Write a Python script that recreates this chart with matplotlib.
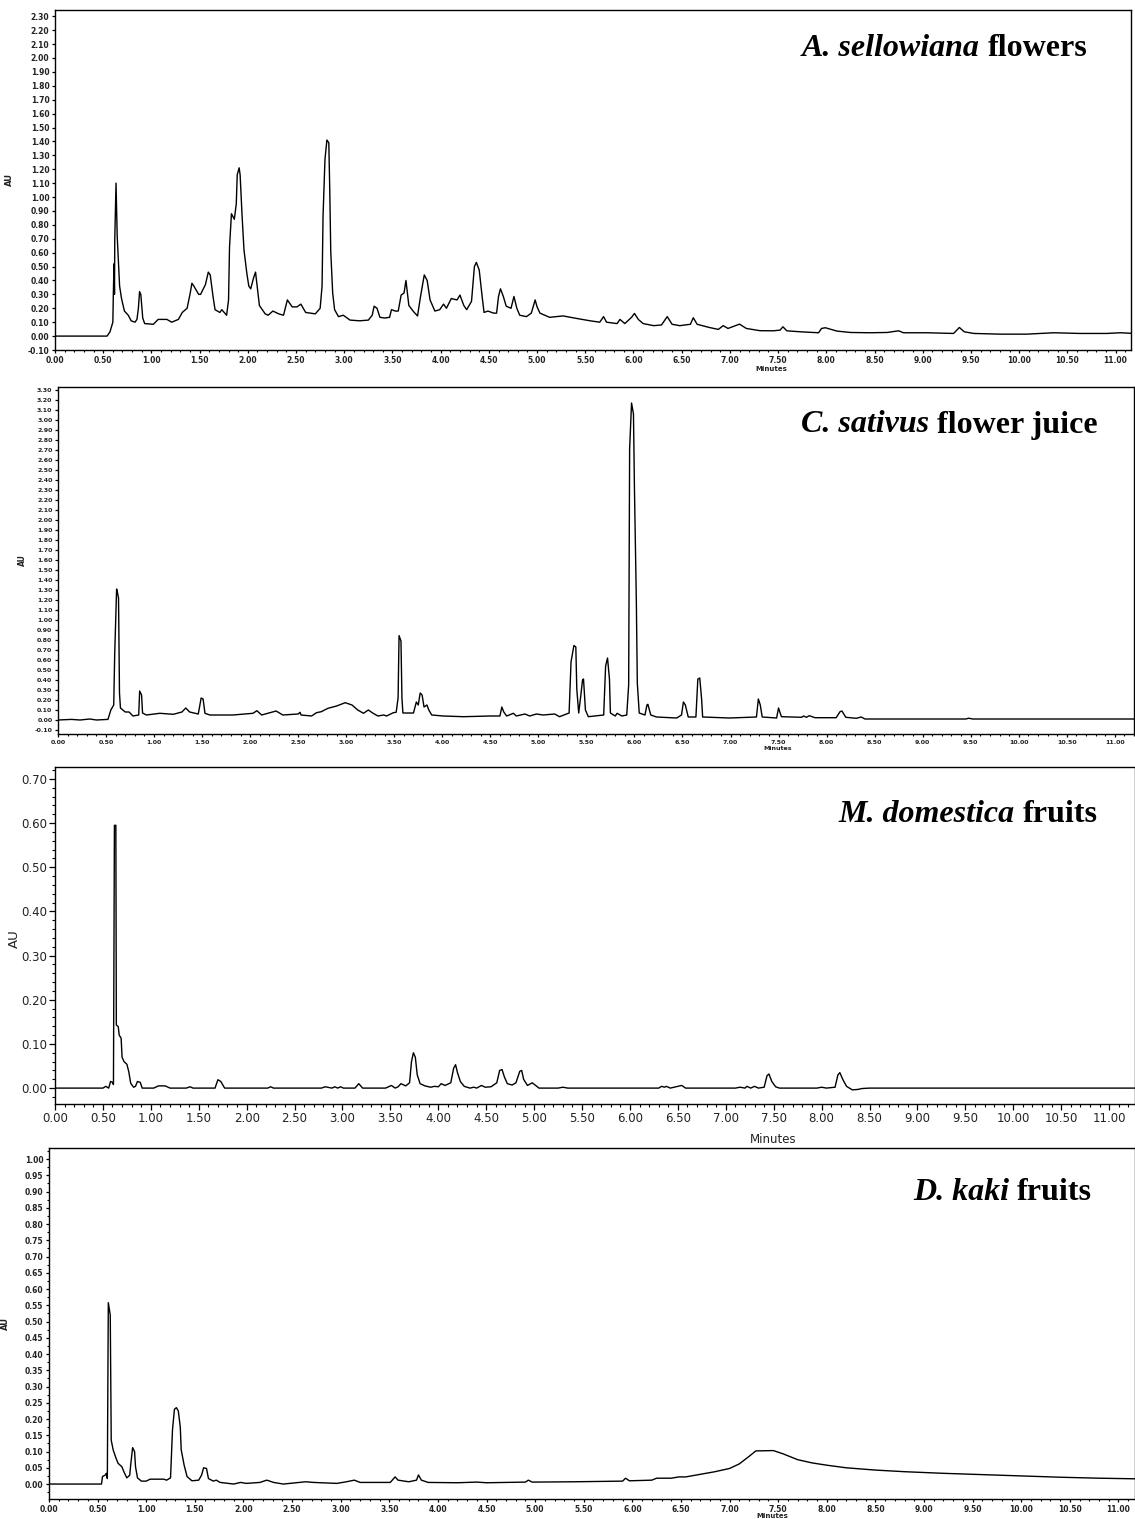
import matplotlib
matplotlib.use('Agg')
import matplotlib.pyplot as plt
import numpy as np
from matplotlib.ticker import MultipleLocator, FormatStrFormatter

# ---- traces (time in min, absorbance in AU) ----
t_sellowiana = [0.00, 0.54, 0.57, 0.60, 0.605, 0.612, 0.617, 0.62, 0.633, 0.645, 0.67, 0.69, 0.72, 0.76,
                0.79, 0.83, 0.85, 0.865, 0.877, 0.89, 0.91, 0.93, 1.02, 1.07, 1.16, 1.21, 1.28, 1.32,
                1.37, 1.40, 1.42, 1.44, 1.49, 1.51, 1.56, 1.59, 1.61, 1.64, 1.66, 1.71, 1.73, 1.78,
                1.80, 1.81, 1.83, 1.86, 1.88, 1.89, 1.91, 1.92, 1.94, 1.96, 1.99, 2.01, 2.03, 2.06,
                2.08, 2.09, 2.12, 2.18, 2.21, 2.26, 2.32, 2.37, 2.41, 2.46, 2.51, 2.55, 2.60, 2.70,
                2.75, 2.77, 2.78, 2.80, 2.82, 2.84, 2.85, 2.86, 2.88, 2.90, 2.94, 2.99, 3.06, 3.16,
                3.25, 3.29, 3.31, 3.34, 3.37, 3.42, 3.47, 3.49, 3.53, 3.56, 3.59, 3.62, 3.64, 3.67,
                3.72, 3.76, 3.79, 3.83, 3.86, 3.89, 3.94, 3.99, 4.03, 4.06, 4.11, 4.17, 4.20, 4.24,
                4.27, 4.32, 4.35, 4.37, 4.40, 4.43, 4.45, 4.49, 4.55, 4.58, 4.60, 4.62, 4.65, 4.68,
                4.73, 4.76, 4.79, 4.82, 4.89, 4.94, 4.98, 5.00, 5.03, 5.13, 5.27, 5.41, 5.55, 5.65,
                5.69, 5.72, 5.83, 5.86, 5.91, 5.98, 6.01, 6.05, 6.10, 6.21, 6.29, 6.35, 6.40, 6.48,
                6.59, 6.62, 6.66, 6.78, 6.88, 6.93, 6.98, 7.10, 7.17, 7.31, 7.45, 7.52, 7.55, 7.59,
                7.73, 7.92, 7.95, 7.99, 8.04, 8.11, 8.25, 8.45, 8.63, 8.75, 8.80, 9.04, 9.32, 9.38,
                9.43, 9.53, 9.80, 10.08, 10.36, 10.63, 10.91, 11.05, 11.19]
au_sellowiana = [0.00, 0.00, 0.03, 0.10, 0.30, 0.52, 0.30, 0.70, 1.10, 0.72, 0.36, 0.27, 0.18, 0.15,
                 0.11, 0.10, 0.12, 0.20, 0.32, 0.30, 0.13, 0.09, 0.085, 0.12, 0.12, 0.10, 0.12, 0.17,
                 0.20, 0.30, 0.38, 0.36, 0.30, 0.30, 0.37, 0.46, 0.44, 0.28, 0.19, 0.17, 0.19, 0.15,
                 0.26, 0.64, 0.88, 0.84, 0.95, 1.16, 1.21, 1.16, 0.87, 0.62, 0.45, 0.36, 0.34, 0.42,
                 0.46, 0.40, 0.22, 0.16, 0.15, 0.18, 0.16, 0.15, 0.26, 0.21, 0.21, 0.23, 0.17, 0.16,
                 0.20, 0.36, 0.86, 1.27, 1.41, 1.39, 1.04, 0.61, 0.31, 0.19, 0.14, 0.15, 0.115, 0.11,
                 0.115, 0.15, 0.215, 0.20, 0.135, 0.13, 0.135, 0.19, 0.18, 0.18, 0.295, 0.31, 0.40, 0.22,
                 0.175, 0.145, 0.28, 0.44, 0.40, 0.26, 0.18, 0.19, 0.23, 0.20, 0.27, 0.26, 0.295, 0.22,
                 0.19, 0.25, 0.50, 0.53, 0.475, 0.285, 0.17, 0.18, 0.165, 0.165, 0.285, 0.34, 0.285, 0.215,
                 0.20, 0.285, 0.20, 0.15, 0.14, 0.165, 0.26, 0.21, 0.165, 0.135, 0.145, 0.127, 0.11, 0.10,
                 0.14, 0.10, 0.09, 0.12, 0.09, 0.135, 0.163, 0.12, 0.09, 0.075, 0.08, 0.14, 0.085, 0.075,
                 0.085, 0.132, 0.085, 0.063, 0.048, 0.075, 0.055, 0.086, 0.055, 0.039, 0.038, 0.043, 0.067, 0.038,
                 0.031, 0.024, 0.055, 0.06, 0.05, 0.036, 0.026, 0.024, 0.026, 0.038, 0.024, 0.024, 0.019, 0.062,
                 0.031, 0.019, 0.014, 0.014, 0.024, 0.019, 0.019, 0.024, 0.019]

t_sativus = [0.00, 0.14, 0.23, 0.33, 0.40, 0.52, 0.55, 0.58, 0.59, 0.61, 0.62, 0.63, 0.64, 0.65, 0.70,
             0.74, 0.78, 0.84, 0.85, 0.87, 0.88, 0.92, 1.06, 1.20, 1.29, 1.33, 1.37, 1.46, 1.49, 1.51,
             1.53, 1.58, 1.82, 2.03, 2.07, 2.12, 2.22, 2.27, 2.34, 2.50, 2.52, 2.53, 2.64, 2.69, 2.74,
             2.81, 2.90, 2.99, 3.06, 3.12, 3.18, 3.23, 3.28, 3.33, 3.39, 3.42, 3.49, 3.52, 3.54, 3.55,
             3.57, 3.58, 3.59, 3.70, 3.73, 3.75, 3.77, 3.79, 3.81, 3.84, 3.86, 3.89, 4.01, 4.22, 4.50,
             4.60, 4.62, 4.64, 4.67, 4.74, 4.77, 4.86, 4.91, 4.98, 5.05, 5.17, 5.22, 5.32, 5.34, 5.37,
             5.39, 5.40, 5.42, 5.44, 5.46, 5.47, 5.49, 5.52, 5.68, 5.70, 5.72, 5.74, 5.75, 5.80, 5.82,
             5.87, 5.92, 5.94, 5.95, 5.97, 5.99, 6.00, 6.02, 6.03, 6.05, 6.11, 6.13, 6.14, 6.17, 6.23,
             6.44, 6.49, 6.51, 6.53, 6.56, 6.64, 6.66, 6.68, 6.70, 6.71, 6.99, 7.27, 7.29, 7.31, 7.33,
             7.48, 7.50, 7.53, 7.74, 7.76, 7.79, 7.82, 7.88, 8.10, 8.14, 8.16, 8.20, 8.31, 8.36, 8.40,
             9.00, 9.45, 9.48, 9.52, 10.20, 11.20]
au_sativus = [0.00, 0.006, 0.00, 0.01, 0.00, 0.006, 0.10, 0.15, 0.65, 1.31, 1.27, 1.22, 0.27, 0.12, 0.08,
              0.08, 0.04, 0.05, 0.29, 0.25, 0.07, 0.05, 0.067, 0.057, 0.08, 0.12, 0.08, 0.06, 0.22, 0.21,
              0.067, 0.05, 0.05, 0.067, 0.093, 0.05, 0.077, 0.09, 0.05, 0.06, 0.077, 0.05, 0.04, 0.073, 0.083,
              0.117, 0.14, 0.173, 0.15, 0.10, 0.067, 0.10, 0.067, 0.04, 0.05, 0.04, 0.073, 0.077, 0.22, 0.844,
              0.79, 0.22, 0.07, 0.07, 0.18, 0.15, 0.27, 0.25, 0.13, 0.15, 0.10, 0.05, 0.04, 0.033, 0.04,
              0.04, 0.13, 0.08, 0.04, 0.067, 0.04, 0.06, 0.04, 0.06, 0.05, 0.06, 0.033, 0.07, 0.58, 0.745,
              0.73, 0.31, 0.07, 0.23, 0.40, 0.41, 0.10, 0.033, 0.05, 0.54, 0.62, 0.41, 0.07, 0.04, 0.067,
              0.04, 0.05, 0.35, 2.71, 3.17, 3.06, 2.33, 1.18, 0.37, 0.07, 0.05, 0.15, 0.157, 0.05, 0.03,
              0.02, 0.05, 0.18, 0.15, 0.03, 0.03, 0.41, 0.42, 0.20, 0.03, 0.02, 0.03, 0.21, 0.15, 0.03,
              0.02, 0.12, 0.033, 0.027, 0.04, 0.027, 0.043, 0.023, 0.023, 0.083, 0.09, 0.027, 0.017, 0.03, 0.01,
              0.01, 0.01, 0.018, 0.01, 0.01, 0.01]

t_domestica = [0.00, 0.50, 0.53, 0.56, 0.58, 0.60, 0.61, 0.62, 0.635, 0.64, 0.66, 0.67, 0.69, 0.70,
               0.72, 0.75, 0.77, 0.79, 0.82, 0.84, 0.86, 0.89, 0.91, 1.03, 1.08, 1.15, 1.20, 1.37,
               1.41, 1.44, 1.67, 1.70, 1.73, 1.77, 2.22, 2.25, 2.28, 2.78, 2.82, 2.89, 2.92, 2.95,
               2.98, 3.01, 3.13, 3.17, 3.21, 3.45, 3.51, 3.55, 3.58, 3.61, 3.66, 3.70, 3.72, 3.74,
               3.76, 3.78, 3.81, 3.86, 3.92, 3.96, 4.00, 4.03, 4.07, 4.13, 4.16, 4.18, 4.20, 4.23,
               4.27, 4.33, 4.37, 4.40, 4.45, 4.49, 4.55, 4.61, 4.64, 4.665, 4.69, 4.72, 4.77, 4.81,
               4.85, 4.87, 4.89, 4.93, 4.98, 5.01, 5.05, 5.25, 5.30, 5.35, 6.30, 6.33, 6.36, 6.38,
               6.42, 6.50, 6.54, 6.58, 7.10, 7.15, 7.20, 7.22, 7.26, 7.30, 7.34, 7.40, 7.43, 7.45,
               7.48, 7.52, 7.56, 7.95, 8.00, 8.05, 8.14, 8.17, 8.19, 8.22, 8.26, 8.32, 8.38, 8.42,
               8.50, 11.30]
au_domestica = [0.00, 0.00, 0.004, 0.00, 0.015, 0.013, 0.008, 0.595, 0.595, 0.143, 0.139, 0.12, 0.113, 0.07,
                0.06, 0.054, 0.037, 0.011, 0.002, 0.004, 0.015, 0.013, 0.00, 0.00, 0.005, 0.005, 0.00, 0.00,
                0.003, 0.00, 0.00, 0.019, 0.015, 0.00, 0.00, 0.003, 0.00, 0.00, 0.003, 0.00, 0.003, 0.00,
                0.003, 0.00, 0.00, 0.010, 0.00, 0.00, 0.006, 0.00, 0.003, 0.010, 0.005, 0.012, 0.060, 0.080,
                0.070, 0.030, 0.010, 0.005, 0.002, 0.004, 0.003, 0.010, 0.006, 0.012, 0.045, 0.053, 0.035, 0.015,
                0.004, 0.00, 0.002, 0.00, 0.006, 0.002, 0.003, 0.012, 0.040, 0.042, 0.025, 0.010, 0.007, 0.012,
                0.038, 0.040, 0.020, 0.006, 0.012, 0.007, 0.00, 0.00, 0.002, 0.00, 0.00, 0.004, 0.002, 0.004,
                0.00, 0.004, 0.006, 0.00, 0.00, 0.002, 0.00, 0.004, 0.00, 0.004, 0.00, 0.002, 0.028, 0.032,
                0.015, 0.003, 0.00, 0.00, 0.002, 0.00, 0.002, 0.030, 0.035, 0.020, 0.004, -0.004, -0.003, -0.001,
                0.00, 0.00]

t_kaki = [0.00, 0.54, 0.55, 0.58, 0.59, 0.60, 0.61, 0.63, 0.64, 0.66, 0.69, 0.71, 0.75, 0.77, 0.80,
          0.83, 0.84, 0.86, 0.88, 0.89, 0.91, 0.95, 1.00, 1.04, 1.18, 1.21, 1.25, 1.27, 1.29, 1.31,
          1.33, 1.35, 1.36, 1.39, 1.42, 1.47, 1.54, 1.57, 1.59, 1.62, 1.64, 1.69, 1.72, 1.76, 1.90,
          1.97, 2.03, 2.17, 2.24, 2.31, 2.41, 2.64, 2.72, 2.96, 3.06, 3.14, 3.20, 3.51, 3.56, 3.59,
          3.70, 3.78, 3.80, 3.83, 3.90, 4.20, 4.40, 4.50, 4.90, 4.93, 4.97, 5.40, 5.90, 5.93, 5.97,
          6.20, 6.25, 6.40, 6.48, 6.55, 6.70, 6.85, 7.00, 7.10, 7.20, 7.27, 7.45, 7.55, 7.70, 7.85,
          8.00, 8.20, 8.50, 8.80, 9.20, 9.60, 10.00, 10.40, 10.80, 11.20]
au_kaki = [0.00, 0.00, 0.023, 0.028, 0.033, 0.017, 0.558, 0.52, 0.135, 0.105, 0.079, 0.064, 0.053, 0.038, 0.019,
           0.027, 0.058, 0.112, 0.10, 0.053, 0.019, 0.009, 0.009, 0.015, 0.015, 0.012, 0.019, 0.166, 0.23, 0.235,
           0.225, 0.176, 0.105, 0.058, 0.023, 0.010, 0.012, 0.028, 0.050, 0.048, 0.017, 0.009, 0.012, 0.005, 0.00,
           0.005, 0.002, 0.005, 0.012, 0.005, 0.00, 0.007, 0.005, 0.002, 0.007, 0.012, 0.005, 0.005, 0.022, 0.012,
           0.007, 0.012, 0.028, 0.012, 0.005, 0.004, 0.006, 0.004, 0.006, 0.012, 0.006, 0.007, 0.009, 0.018, 0.010,
           0.012, 0.018, 0.018, 0.022, 0.022, 0.030, 0.038, 0.048, 0.062, 0.085, 0.102, 0.103, 0.093, 0.075, 0.065,
           0.058, 0.050, 0.043, 0.038, 0.033, 0.029, 0.025, 0.021, 0.018, 0.016]

titles = [("A. sellowiana", " flowers"), ("C. sativus", " flower juice"),
          ("M. domestica", " fruits"), ("D. kaki", " fruits")]

W, H = 1135, 1519
fig = plt.figure(figsize=(W / 100, H / 100), dpi=100)
fig.patch.set_facecolor('white')


def make_axes(left, top, right, bottom):
    return fig.add_axes([left / W, 1 - bottom / H, (right - left) / W, (bottom - top) / H])


def style(ax, xmax, ylim, ystep, yminor, fs, lab_fs, xlab_pos, ylab_pos, bold=True, tick_len=2.5):
    ax.set_xlim(0, xmax)
    ax.set_ylim(*ylim)
    ax.xaxis.set_major_locator(MultipleLocator(0.5))
    ax.xaxis.set_minor_locator(MultipleLocator(0.1))
    ax.yaxis.set_major_locator(MultipleLocator(ystep))
    if yminor:
        ax.yaxis.set_minor_locator(MultipleLocator(yminor))
    ax.xaxis.set_major_formatter(FormatStrFormatter('%.2f'))
    ax.yaxis.set_major_formatter(FormatStrFormatter('%.2f'))
    ax.tick_params(which='major', direction='out', length=tick_len, width=0.9, labelsize=fs, pad=1.5)
    ax.tick_params(which='minor', direction='out', length=tick_len * 0.5, width=0.8)
    for lab in ax.get_xticklabels() + ax.get_yticklabels():
        lab.set_fontweight('bold' if bold else 'normal')
        lab.set_color('#222222')
    for s in ax.spines.values():
        s.set_linewidth(1.0)
    ax.set_xlabel('Minutes', fontsize=lab_fs, fontweight='bold' if bold else 'normal', color='#222222')
    ax.xaxis.set_label_coords(*xlab_pos)
    ax.set_ylabel('AU', fontsize=lab_fs + 1, fontweight='bold' if bold else 'normal', color='#222222')
    ax.yaxis.set_label_coords(*ylab_pos)


ax1 = make_axes(55, 10, 1131, 350)
ax1.plot(t_sellowiana, au_sellowiana, color='black', lw=1.0)
style(ax1, 11.16, (-0.10, 2.345), 0.10, None, 5.5, 5, (0.666, -0.047), (-0.038, 0.5))

ax2 = make_axes(58, 387, 1134, 734)
ax2.plot(t_sativus, au_sativus, color='black', lw=1.0)
style(ax2, 11.2, (-0.14, 3.33), 0.10, None, 4.5, 4.5, (0.669, -0.035), (-0.029, 0.5))

ax3 = make_axes(55, 767, 1135, 1104)
ax3.plot(t_domestica, au_domestica, color='black', lw=1.0)
style(ax3, 11.27, (-0.036, 0.727), 0.10, 0.02, 8.5, 8.5, (0.665, -0.085), (-0.032, 0.49),
      bold=False, tick_len=4)

ax4 = make_axes(49, 1148, 1135, 1499)
ax4.plot(t_kaki, au_kaki, color='black', lw=1.0)
style(ax4, 11.17, (-0.046, 1.034), 0.05, 0.025, 5.5, 5, (0.666, -0.04), (-0.036, 0.5))

# species titles: bold italic genus/species, bold plain rest, right aligned
title_pos = [(1087, 49), (1098, 425), (1098, 815), (1092, 1192)]
fig.canvas.draw()
renderer = fig.canvas.get_renderer()
for (ital, plain), (xr, yc) in zip(titles, title_pos):
    t2 = fig.text(xr / W, 1 - yc / H, plain.strip(), ha='right', va='center',
                  family='Liberation Serif', fontweight='bold', fontsize=23)
    bb = t2.get_window_extent(renderer)
    x_left = bb.x0 - 8
    fig.text(x_left / W, 1 - yc / H, ital, ha='right', va='center',
             family='Liberation Serif', fontweight='bold', fontstyle='italic', fontsize=23)

fig.savefig('out.png', dpi=100, facecolor='white')
plt.close(fig)
